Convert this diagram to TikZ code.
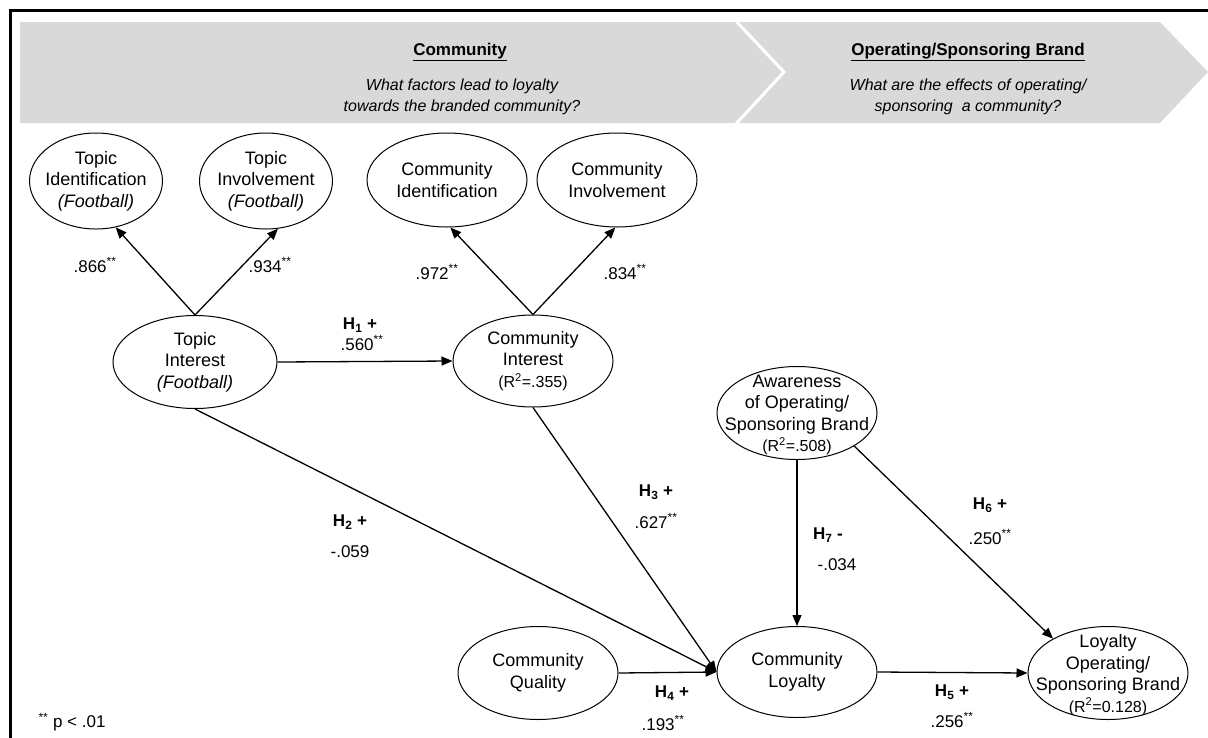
\documentclass[tikz,border=0pt]{standalone}
\usepackage{fontspec}
\setmainfont{Liberation Sans}
\usetikzlibrary{shapes.geometric,arrows.meta}
\definecolor{bannergray}{RGB}{217,217,217}
\begin{document}
\begin{tikzpicture}[x=1pt,y=-1pt,
  ell/.style={draw, ellipse, line width=1pt, inner sep=0pt},
  txt/.style={align=center, font=\fontsize{18}{21.5}\selectfont, inner sep=0pt},
  arr/.style={-{Triangle[length=11pt,width=9pt]}, line width=1.3pt},
  lbl/.style={font=\fontsize{17}{19}\selectfont, inner sep=0pt},
  hl/.style={font=\bfseries\fontsize{17}{19}\selectfont, inner sep=0pt}
]
\newcommand{\rsq}[1]{{\fontsize{16}{18}\selectfont(R\textsuperscript{2}=#1)}}
\useasboundingbox (0,0) rectangle (1208,737);
% frame
\draw[line width=3pt] (10,760) -- (10,10) -- (1230,10);
% banner
\fill[bannergray] (20,22) -- (1160,22) -- (1208,72) -- (1160,123) -- (20,123) -- cycle;
\draw[white, line width=3pt] (735,20) -- (784,72) -- (735,125);
\node[font=\bfseries\fontsize{17}{20}\selectfont] (t1) at (460,52) {\underline{Community}};
\node[font=\itshape\fontsize{16}{21}\selectfont, align=center] (q1) at (462,97) {What factors lead to loyalty\\towards the branded community?};
\node[font=\bfseries\fontsize{17}{20}\selectfont] (t2) at (968,52) {\underline{Operating/Sponsoring Brand}};
\node[font=\itshape\fontsize{16}{21}\selectfont, align=center] (q2) at (968,97) {What are the effects of operating/\\sponsoring\ \ a community?};
% ellipses
\node[ell, minimum width=133, minimum height=96] (tid) at (96,181) {};
\node[txt] at (tid) {Topic\\Identification\\\textit{(Football)}};
\node[ell, minimum width=133, minimum height=96] (tinv) at (266,181) {};
\node[txt] at (tinv) {Topic\\Involvement\\\textit{(Football)}};
\node[ell, minimum width=160, minimum height=94] (cid) at (447,180) {};
\node[txt] at (cid) {Community\\Identification};
\node[ell, minimum width=160, minimum height=94] (cinv) at (617,180) {};
\node[txt] at (cinv) {Community\\Involvement};
\node[ell, minimum width=164, minimum height=93] (ti) at (195,362) {};
\node[txt] at (ti) {Topic\\Interest\\\textit{(Football)}};
\node[ell, minimum width=160, minimum height=92] (ci) at (533,361) {};
\node[txt] at (ci) {Community\\Interest\\\rsq{.355}};
\node[ell, minimum width=160, minimum height=93] (aw) at (797,413) {};
\node[txt] at ([yshift=-2pt]aw) {Awareness\\of Operating/\\Sponsoring Brand\\\rsq{.508}};
\node[ell, minimum width=160, minimum height=93] (cq) at (538,673) {};
\node[txt] at (cq) {Community\\Quality};
\node[ell, minimum width=160, minimum height=91] (cl) at (797,672) {};
\node[txt] at (cl) {Community\\Loyalty};
\node[ell, minimum width=160, minimum height=93] (losb) at (1108,673) {};
\node[txt] at ([yshift=-2pt]losb) {Loyalty\\Operating/\\Sponsoring Brand\\\rsq{0.128}};
% connectors
\draw[arr] (ti.north) -- (tid.-67);
\draw[arr] (ti.north) -- (tinv.-76);
\draw[arr] (ci.north) -- (cid.-86);
\draw[arr] (ci.north) -- (cinv.-92);
\draw[arr] (ti.east) -- (ci.west);
\draw[arr] (ti.south) -- (cl.west);
\draw[arr] (ci.south) -- (cl.west);
\draw[arr] (cq.east) -- (cl.west);
\draw[arr] (aw.south) -- (cl.north);
\draw[arr] (aw.-30) -- (losb.148);
\draw[arr] (cl.east) -- (losb.west);
% labels
\node[lbl] (l1) at (95,265) {.866\textsuperscript{**}};
\node[lbl] (l2) at (270,265) {.934\textsuperscript{**}};
\node[lbl] (l3) at (437,272) {.972\textsuperscript{**}};
\node[lbl] (l4) at (625,272) {.834\textsuperscript{**}};
\node[hl] (h1) at (360,325) {H\textsubscript{1} +};
\node[lbl] (v1) at (362,343) {.560\textsuperscript{**}};
\node[hl] (h2) at (350,522) {H\textsubscript{2} +};
\node[lbl] (v2) at (350,552) {-.059};
\node[hl] (h3) at (656,492) {H\textsubscript{3} +};
\node[lbl] (v3) at (656,521) {.627\textsuperscript{**}};
\node[hl] (h4) at (672,693) {H\textsubscript{4} +};
\node[lbl] (v4) at (663,723) {.193\textsuperscript{**}};
\node[hl] (h5) at (952,692) {H\textsubscript{5} +};
\node[lbl] (v5) at (952,720) {.256\textsuperscript{**}};
\node[hl] (h6) at (990,505) {H\textsubscript{6} +};
\node[lbl] (v6) at (990,537) {.250\textsuperscript{**}};
\node[hl] (h7) at (828,535) {H\textsubscript{7} -};
\node[lbl] (v7) at (837,565) {-.034};
\node[lbl] (pn) at (72,722) {\textsuperscript{**} p {<} .01};
\end{tikzpicture}
\end{document}
